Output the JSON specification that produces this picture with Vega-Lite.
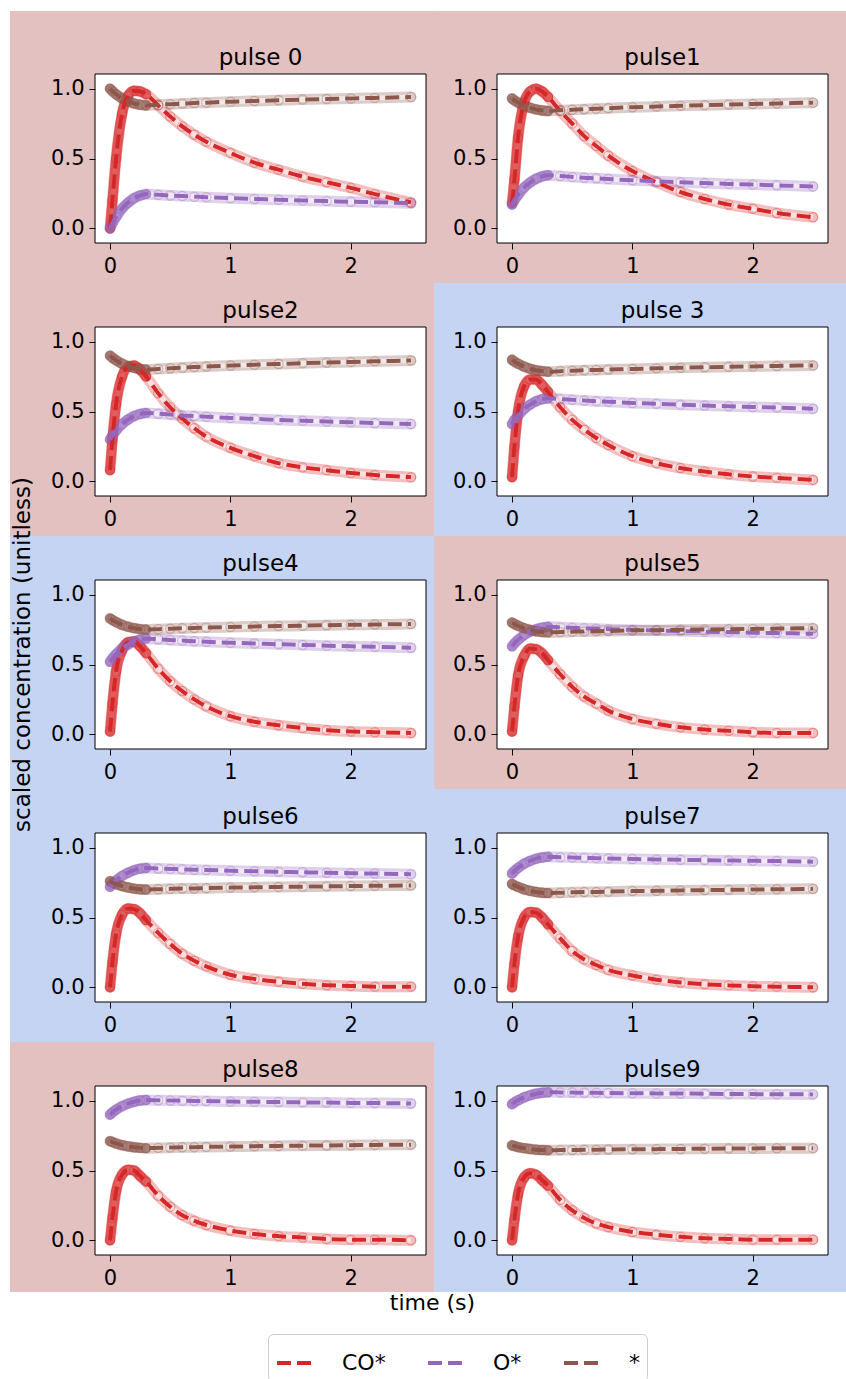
{
"$schema": "https://vega.github.io/schema/vega-lite/v6.json",
"background": "white",
"padding": {"left": 10, "top": 11, "right": 0, "bottom": 0},
"config": {
 "font": "DejaVu Sans",
 "view": {"stroke": null},
 "axis": {"domain": false, "grid": false, "tickColor": "black", "tickSize": 6, "tickWidth": 1, "labelFontSize": 21, "labelColor": "black", "zindex": 1, "titleFontSize": 23, "titleFontWeight": "normal", "titleColor": "black"},
 "axisX": {"labelPadding": 6},
 "axisY": {"labelPadding": 5},
 "line": {"interpolate": "monotone"}
},
"datasets": {"d": [
{"p":0,"s":"CO*","t":0,"y":0},{"p":0,"s":"CO*","t":0.02,"y":0.2},{"p":0,"s":"CO*","t":0.05,"y":0.5},{"p":0,"s":"CO*","t":0.1,"y":0.82},{"p":0,"s":"CO*","t":0.15,"y":0.95},{"p":0,"s":"CO*","t":0.2,"y":0.985},{"p":0,"s":"CO*","t":0.25,"y":0.98},{"p":0,"s":"CO*","t":0.3,"y":0.96},{"p":0,"s":"CO*","t":0.4,"y":0.88},{"p":0,"s":"CO*","t":0.5,"y":0.8},{"p":0,"s":"CO*","t":0.6,"y":0.73},{"p":0,"s":"CO*","t":0.7,"y":0.67},{"p":0,"s":"CO*","t":0.8,"y":0.62},{"p":0,"s":"CO*","t":1,"y":0.54},{"p":0,"s":"CO*","t":1.2,"y":0.47},{"p":0,"s":"CO*","t":1.4,"y":0.42},{"p":0,"s":"CO*","t":1.6,"y":0.37},{"p":0,"s":"CO*","t":1.8,"y":0.33},{"p":0,"s":"CO*","t":2,"y":0.29},{"p":0,"s":"CO*","t":2.2,"y":0.245},{"p":0,"s":"CO*","t":2.5,"y":0.185},
{"p":0,"s":"O*","t":0,"y":0},{"p":0,"s":"O*","t":0.02,"y":0.037},{"p":0,"s":"O*","t":0.05,"y":0.081},{"p":0,"s":"O*","t":0.1,"y":0.142},{"p":0,"s":"O*","t":0.15,"y":0.184},{"p":0,"s":"O*","t":0.2,"y":0.216},{"p":0,"s":"O*","t":0.25,"y":0.235},{"p":0,"s":"O*","t":0.3,"y":0.245},{"p":0,"s":"O*","t":0.4,"y":0.24},{"p":0,"s":"O*","t":0.5,"y":0.235},{"p":0,"s":"O*","t":0.6,"y":0.231},{"p":0,"s":"O*","t":0.7,"y":0.227},{"p":0,"s":"O*","t":0.8,"y":0.223},{"p":0,"s":"O*","t":1,"y":0.216},{"p":0,"s":"O*","t":1.2,"y":0.21},{"p":0,"s":"O*","t":1.4,"y":0.205},{"p":0,"s":"O*","t":1.6,"y":0.2},{"p":0,"s":"O*","t":1.8,"y":0.195},{"p":0,"s":"O*","t":2,"y":0.19},{"p":0,"s":"O*","t":2.2,"y":0.187},{"p":0,"s":"O*","t":2.5,"y":0.18},
{"p":0,"s":"*","t":0,"y":1},{"p":0,"s":"*","t":0.02,"y":0.982},{"p":0,"s":"*","t":0.05,"y":0.96},{"p":0,"s":"*","t":0.1,"y":0.93},{"p":0,"s":"*","t":0.15,"y":0.91},{"p":0,"s":"*","t":0.2,"y":0.894},{"p":0,"s":"*","t":0.25,"y":0.885},{"p":0,"s":"*","t":0.3,"y":0.88},{"p":0,"s":"*","t":0.4,"y":0.885},{"p":0,"s":"*","t":0.5,"y":0.889},{"p":0,"s":"*","t":0.6,"y":0.893},{"p":0,"s":"*","t":0.7,"y":0.897},{"p":0,"s":"*","t":0.8,"y":0.9},{"p":0,"s":"*","t":1,"y":0.907},{"p":0,"s":"*","t":1.2,"y":0.912},{"p":0,"s":"*","t":1.4,"y":0.917},{"p":0,"s":"*","t":1.6,"y":0.922},{"p":0,"s":"*","t":1.8,"y":0.926},{"p":0,"s":"*","t":2,"y":0.93},{"p":0,"s":"*","t":2.2,"y":0.934},{"p":0,"s":"*","t":2.5,"y":0.94},
{"p":1,"s":"CO*","t":0,"y":0.18},{"p":1,"s":"CO*","t":0.02,"y":0.35},{"p":1,"s":"CO*","t":0.05,"y":0.65},{"p":1,"s":"CO*","t":0.1,"y":0.9},{"p":1,"s":"CO*","t":0.15,"y":0.98},{"p":1,"s":"CO*","t":0.2,"y":1},{"p":1,"s":"CO*","t":0.25,"y":0.98},{"p":1,"s":"CO*","t":0.3,"y":0.94},{"p":1,"s":"CO*","t":0.4,"y":0.84},{"p":1,"s":"CO*","t":0.5,"y":0.75},{"p":1,"s":"CO*","t":0.6,"y":0.66},{"p":1,"s":"CO*","t":0.7,"y":0.59},{"p":1,"s":"CO*","t":0.8,"y":0.52},{"p":1,"s":"CO*","t":1,"y":0.41},{"p":1,"s":"CO*","t":1.2,"y":0.33},{"p":1,"s":"CO*","t":1.4,"y":0.26},{"p":1,"s":"CO*","t":1.6,"y":0.21},{"p":1,"s":"CO*","t":1.8,"y":0.17},{"p":1,"s":"CO*","t":2,"y":0.14},{"p":1,"s":"CO*","t":2.2,"y":0.11},{"p":1,"s":"CO*","t":2.5,"y":0.08},
{"p":1,"s":"O*","t":0,"y":0.17},{"p":1,"s":"O*","t":0.02,"y":0.202},{"p":1,"s":"O*","t":0.05,"y":0.239},{"p":1,"s":"O*","t":0.1,"y":0.292},{"p":1,"s":"O*","t":0.15,"y":0.328},{"p":1,"s":"O*","t":0.2,"y":0.355},{"p":1,"s":"O*","t":0.25,"y":0.372},{"p":1,"s":"O*","t":0.3,"y":0.38},{"p":1,"s":"O*","t":0.4,"y":0.374},{"p":1,"s":"O*","t":0.5,"y":0.368},{"p":1,"s":"O*","t":0.6,"y":0.362},{"p":1,"s":"O*","t":0.7,"y":0.358},{"p":1,"s":"O*","t":0.8,"y":0.353},{"p":1,"s":"O*","t":1,"y":0.344},{"p":1,"s":"O*","t":1.2,"y":0.337},{"p":1,"s":"O*","t":1.4,"y":0.33},{"p":1,"s":"O*","t":1.6,"y":0.324},{"p":1,"s":"O*","t":1.8,"y":0.318},{"p":1,"s":"O*","t":2,"y":0.313},{"p":1,"s":"O*","t":2.2,"y":0.308},{"p":1,"s":"O*","t":2.5,"y":0.3},
{"p":1,"s":"*","t":0,"y":0.93},{"p":1,"s":"*","t":0.02,"y":0.916},{"p":1,"s":"*","t":0.05,"y":0.9},{"p":1,"s":"*","t":0.1,"y":0.878},{"p":1,"s":"*","t":0.15,"y":0.863},{"p":1,"s":"*","t":0.2,"y":0.851},{"p":1,"s":"*","t":0.25,"y":0.844},{"p":1,"s":"*","t":0.3,"y":0.84},{"p":1,"s":"*","t":0.4,"y":0.845},{"p":1,"s":"*","t":0.5,"y":0.849},{"p":1,"s":"*","t":0.6,"y":0.853},{"p":1,"s":"*","t":0.7,"y":0.857},{"p":1,"s":"*","t":0.8,"y":0.86},{"p":1,"s":"*","t":1,"y":0.867},{"p":1,"s":"*","t":1.2,"y":0.872},{"p":1,"s":"*","t":1.4,"y":0.877},{"p":1,"s":"*","t":1.6,"y":0.882},{"p":1,"s":"*","t":1.8,"y":0.886},{"p":1,"s":"*","t":2,"y":0.89},{"p":1,"s":"*","t":2.2,"y":0.894},{"p":1,"s":"*","t":2.5,"y":0.9},
{"p":2,"s":"CO*","t":0,"y":0.08},{"p":2,"s":"CO*","t":0.02,"y":0.3},{"p":2,"s":"CO*","t":0.05,"y":0.55},{"p":2,"s":"CO*","t":0.1,"y":0.75},{"p":2,"s":"CO*","t":0.15,"y":0.82},{"p":2,"s":"CO*","t":0.2,"y":0.83},{"p":2,"s":"CO*","t":0.25,"y":0.8},{"p":2,"s":"CO*","t":0.3,"y":0.75},{"p":2,"s":"CO*","t":0.4,"y":0.63},{"p":2,"s":"CO*","t":0.5,"y":0.53},{"p":2,"s":"CO*","t":0.6,"y":0.45},{"p":2,"s":"CO*","t":0.7,"y":0.38},{"p":2,"s":"CO*","t":0.8,"y":0.32},{"p":2,"s":"CO*","t":1,"y":0.24},{"p":2,"s":"CO*","t":1.2,"y":0.18},{"p":2,"s":"CO*","t":1.4,"y":0.13},{"p":2,"s":"CO*","t":1.6,"y":0.1},{"p":2,"s":"CO*","t":1.8,"y":0.08},{"p":2,"s":"CO*","t":2,"y":0.06},{"p":2,"s":"CO*","t":2.2,"y":0.045},{"p":2,"s":"CO*","t":2.5,"y":0.03},
{"p":2,"s":"O*","t":0,"y":0.3},{"p":2,"s":"O*","t":0.02,"y":0.329},{"p":2,"s":"O*","t":0.05,"y":0.363},{"p":2,"s":"O*","t":0.1,"y":0.41},{"p":2,"s":"O*","t":0.15,"y":0.443},{"p":2,"s":"O*","t":0.2,"y":0.467},{"p":2,"s":"O*","t":0.25,"y":0.482},{"p":2,"s":"O*","t":0.3,"y":0.49},{"p":2,"s":"O*","t":0.4,"y":0.484},{"p":2,"s":"O*","t":0.5,"y":0.478},{"p":2,"s":"O*","t":0.6,"y":0.472},{"p":2,"s":"O*","t":0.7,"y":0.468},{"p":2,"s":"O*","t":0.8,"y":0.463},{"p":2,"s":"O*","t":1,"y":0.454},{"p":2,"s":"O*","t":1.2,"y":0.447},{"p":2,"s":"O*","t":1.4,"y":0.44},{"p":2,"s":"O*","t":1.6,"y":0.434},{"p":2,"s":"O*","t":1.8,"y":0.428},{"p":2,"s":"O*","t":2,"y":0.423},{"p":2,"s":"O*","t":2.2,"y":0.418},{"p":2,"s":"O*","t":2.5,"y":0.41},
{"p":2,"s":"*","t":0,"y":0.9},{"p":2,"s":"*","t":0.02,"y":0.885},{"p":2,"s":"*","t":0.05,"y":0.867},{"p":2,"s":"*","t":0.1,"y":0.842},{"p":2,"s":"*","t":0.15,"y":0.825},{"p":2,"s":"*","t":0.2,"y":0.812},{"p":2,"s":"*","t":0.25,"y":0.804},{"p":2,"s":"*","t":0.3,"y":0.8},{"p":2,"s":"*","t":0.4,"y":0.805},{"p":2,"s":"*","t":0.5,"y":0.81},{"p":2,"s":"*","t":0.6,"y":0.814},{"p":2,"s":"*","t":0.7,"y":0.818},{"p":2,"s":"*","t":0.8,"y":0.822},{"p":2,"s":"*","t":1,"y":0.829},{"p":2,"s":"*","t":1.2,"y":0.835},{"p":2,"s":"*","t":1.4,"y":0.84},{"p":2,"s":"*","t":1.6,"y":0.846},{"p":2,"s":"*","t":1.8,"y":0.85},{"p":2,"s":"*","t":2,"y":0.855},{"p":2,"s":"*","t":2.2,"y":0.859},{"p":2,"s":"*","t":2.5,"y":0.865},
{"p":3,"s":"CO*","t":0,"y":0.03},{"p":3,"s":"CO*","t":0.02,"y":0.25},{"p":3,"s":"CO*","t":0.05,"y":0.5},{"p":3,"s":"CO*","t":0.1,"y":0.68},{"p":3,"s":"CO*","t":0.15,"y":0.73},{"p":3,"s":"CO*","t":0.2,"y":0.73},{"p":3,"s":"CO*","t":0.25,"y":0.69},{"p":3,"s":"CO*","t":0.3,"y":0.64},{"p":3,"s":"CO*","t":0.4,"y":0.53},{"p":3,"s":"CO*","t":0.5,"y":0.44},{"p":3,"s":"CO*","t":0.6,"y":0.37},{"p":3,"s":"CO*","t":0.7,"y":0.31},{"p":3,"s":"CO*","t":0.8,"y":0.26},{"p":3,"s":"CO*","t":1,"y":0.18},{"p":3,"s":"CO*","t":1.2,"y":0.13},{"p":3,"s":"CO*","t":1.4,"y":0.095},{"p":3,"s":"CO*","t":1.6,"y":0.07},{"p":3,"s":"CO*","t":1.8,"y":0.05},{"p":3,"s":"CO*","t":2,"y":0.035},{"p":3,"s":"CO*","t":2.2,"y":0.025},{"p":3,"s":"CO*","t":2.5,"y":0.01},
{"p":3,"s":"O*","t":0,"y":0.41},{"p":3,"s":"O*","t":0.02,"y":0.438},{"p":3,"s":"O*","t":0.05,"y":0.471},{"p":3,"s":"O*","t":0.1,"y":0.517},{"p":3,"s":"O*","t":0.15,"y":0.549},{"p":3,"s":"O*","t":0.2,"y":0.573},{"p":3,"s":"O*","t":0.25,"y":0.588},{"p":3,"s":"O*","t":0.3,"y":0.595},{"p":3,"s":"O*","t":0.4,"y":0.589},{"p":3,"s":"O*","t":0.5,"y":0.584},{"p":3,"s":"O*","t":0.6,"y":0.579},{"p":3,"s":"O*","t":0.7,"y":0.574},{"p":3,"s":"O*","t":0.8,"y":0.57},{"p":3,"s":"O*","t":1,"y":0.561},{"p":3,"s":"O*","t":1.2,"y":0.555},{"p":3,"s":"O*","t":1.4,"y":0.549},{"p":3,"s":"O*","t":1.6,"y":0.543},{"p":3,"s":"O*","t":1.8,"y":0.537},{"p":3,"s":"O*","t":2,"y":0.532},{"p":3,"s":"O*","t":2.2,"y":0.528},{"p":3,"s":"O*","t":2.5,"y":0.52},
{"p":3,"s":"*","t":0,"y":0.87},{"p":3,"s":"*","t":0.02,"y":0.857},{"p":3,"s":"*","t":0.05,"y":0.842},{"p":3,"s":"*","t":0.1,"y":0.821},{"p":3,"s":"*","t":0.15,"y":0.806},{"p":3,"s":"*","t":0.2,"y":0.795},{"p":3,"s":"*","t":0.25,"y":0.789},{"p":3,"s":"*","t":0.3,"y":0.785},{"p":3,"s":"*","t":0.4,"y":0.789},{"p":3,"s":"*","t":0.5,"y":0.792},{"p":3,"s":"*","t":0.6,"y":0.795},{"p":3,"s":"*","t":0.7,"y":0.798},{"p":3,"s":"*","t":0.8,"y":0.8},{"p":3,"s":"*","t":1,"y":0.805},{"p":3,"s":"*","t":1.2,"y":0.809},{"p":3,"s":"*","t":1.4,"y":0.813},{"p":3,"s":"*","t":1.6,"y":0.817},{"p":3,"s":"*","t":1.8,"y":0.82},{"p":3,"s":"*","t":2,"y":0.823},{"p":3,"s":"*","t":2.2,"y":0.826},{"p":3,"s":"*","t":2.5,"y":0.83},
{"p":4,"s":"CO*","t":0,"y":0.02},{"p":4,"s":"CO*","t":0.02,"y":0.22},{"p":4,"s":"CO*","t":0.05,"y":0.45},{"p":4,"s":"CO*","t":0.1,"y":0.6},{"p":4,"s":"CO*","t":0.15,"y":0.66},{"p":4,"s":"CO*","t":0.2,"y":0.665},{"p":4,"s":"CO*","t":0.25,"y":0.63},{"p":4,"s":"CO*","t":0.3,"y":0.58},{"p":4,"s":"CO*","t":0.4,"y":0.47},{"p":4,"s":"CO*","t":0.5,"y":0.38},{"p":4,"s":"CO*","t":0.6,"y":0.31},{"p":4,"s":"CO*","t":0.7,"y":0.25},{"p":4,"s":"CO*","t":0.8,"y":0.2},{"p":4,"s":"CO*","t":1,"y":0.13},{"p":4,"s":"CO*","t":1.2,"y":0.09},{"p":4,"s":"CO*","t":1.4,"y":0.065},{"p":4,"s":"CO*","t":1.6,"y":0.045},{"p":4,"s":"CO*","t":1.8,"y":0.03},{"p":4,"s":"CO*","t":2,"y":0.02},{"p":4,"s":"CO*","t":2.2,"y":0.015},{"p":4,"s":"CO*","t":2.5,"y":0.01},
{"p":4,"s":"O*","t":0,"y":0.52},{"p":4,"s":"O*","t":0.02,"y":0.545},{"p":4,"s":"O*","t":0.05,"y":0.574},{"p":4,"s":"O*","t":0.1,"y":0.616},{"p":4,"s":"O*","t":0.15,"y":0.644},{"p":4,"s":"O*","t":0.2,"y":0.665},{"p":4,"s":"O*","t":0.25,"y":0.678},{"p":4,"s":"O*","t":0.3,"y":0.685},{"p":4,"s":"O*","t":0.4,"y":0.68},{"p":4,"s":"O*","t":0.5,"y":0.675},{"p":4,"s":"O*","t":0.6,"y":0.671},{"p":4,"s":"O*","t":0.7,"y":0.667},{"p":4,"s":"O*","t":0.8,"y":0.663},{"p":4,"s":"O*","t":1,"y":0.656},{"p":4,"s":"O*","t":1.2,"y":0.65},{"p":4,"s":"O*","t":1.4,"y":0.645},{"p":4,"s":"O*","t":1.6,"y":0.64},{"p":4,"s":"O*","t":1.8,"y":0.635},{"p":4,"s":"O*","t":2,"y":0.63},{"p":4,"s":"O*","t":2.2,"y":0.627},{"p":4,"s":"O*","t":2.5,"y":0.62},
{"p":4,"s":"*","t":0,"y":0.83},{"p":4,"s":"*","t":0.02,"y":0.818},{"p":4,"s":"*","t":0.05,"y":0.804},{"p":4,"s":"*","t":0.1,"y":0.784},{"p":4,"s":"*","t":0.15,"y":0.77},{"p":4,"s":"*","t":0.2,"y":0.76},{"p":4,"s":"*","t":0.25,"y":0.753},{"p":4,"s":"*","t":0.3,"y":0.75},{"p":4,"s":"*","t":0.4,"y":0.753},{"p":4,"s":"*","t":0.5,"y":0.756},{"p":4,"s":"*","t":0.6,"y":0.759},{"p":4,"s":"*","t":0.7,"y":0.761},{"p":4,"s":"*","t":0.8,"y":0.764},{"p":4,"s":"*","t":1,"y":0.768},{"p":4,"s":"*","t":1.2,"y":0.772},{"p":4,"s":"*","t":1.4,"y":0.775},{"p":4,"s":"*","t":1.6,"y":0.778},{"p":4,"s":"*","t":1.8,"y":0.781},{"p":4,"s":"*","t":2,"y":0.784},{"p":4,"s":"*","t":2.2,"y":0.786},{"p":4,"s":"*","t":2.5,"y":0.79},
{"p":5,"s":"CO*","t":0,"y":0.02},{"p":5,"s":"CO*","t":0.02,"y":0.2},{"p":5,"s":"CO*","t":0.05,"y":0.42},{"p":5,"s":"CO*","t":0.1,"y":0.56},{"p":5,"s":"CO*","t":0.15,"y":0.615},{"p":5,"s":"CO*","t":0.2,"y":0.61},{"p":5,"s":"CO*","t":0.25,"y":0.58},{"p":5,"s":"CO*","t":0.3,"y":0.53},{"p":5,"s":"CO*","t":0.4,"y":0.43},{"p":5,"s":"CO*","t":0.5,"y":0.34},{"p":5,"s":"CO*","t":0.6,"y":0.27},{"p":5,"s":"CO*","t":0.7,"y":0.22},{"p":5,"s":"CO*","t":0.8,"y":0.17},{"p":5,"s":"CO*","t":1,"y":0.11},{"p":5,"s":"CO*","t":1.2,"y":0.075},{"p":5,"s":"CO*","t":1.4,"y":0.05},{"p":5,"s":"CO*","t":1.6,"y":0.035},{"p":5,"s":"CO*","t":1.8,"y":0.025},{"p":5,"s":"CO*","t":2,"y":0.015},{"p":5,"s":"CO*","t":2.2,"y":0.01},{"p":5,"s":"CO*","t":2.5,"y":0.01},
{"p":5,"s":"O*","t":0,"y":0.63},{"p":5,"s":"O*","t":0.02,"y":0.651},{"p":5,"s":"O*","t":0.05,"y":0.676},{"p":5,"s":"O*","t":0.1,"y":0.711},{"p":5,"s":"O*","t":0.15,"y":0.735},{"p":5,"s":"O*","t":0.2,"y":0.753},{"p":5,"s":"O*","t":0.25,"y":0.764},{"p":5,"s":"O*","t":0.3,"y":0.77},{"p":5,"s":"O*","t":0.4,"y":0.766},{"p":5,"s":"O*","t":0.5,"y":0.763},{"p":5,"s":"O*","t":0.6,"y":0.759},{"p":5,"s":"O*","t":0.7,"y":0.756},{"p":5,"s":"O*","t":0.8,"y":0.753},{"p":5,"s":"O*","t":1,"y":0.748},{"p":5,"s":"O*","t":1.2,"y":0.743},{"p":5,"s":"O*","t":1.4,"y":0.739},{"p":5,"s":"O*","t":1.6,"y":0.735},{"p":5,"s":"O*","t":1.8,"y":0.732},{"p":5,"s":"O*","t":2,"y":0.728},{"p":5,"s":"O*","t":2.2,"y":0.725},{"p":5,"s":"O*","t":2.5,"y":0.72},
{"p":5,"s":"*","t":0,"y":0.8},{"p":5,"s":"*","t":0.02,"y":0.79},{"p":5,"s":"*","t":0.05,"y":0.777},{"p":5,"s":"*","t":0.1,"y":0.759},{"p":5,"s":"*","t":0.15,"y":0.748},{"p":5,"s":"*","t":0.2,"y":0.738},{"p":5,"s":"*","t":0.25,"y":0.733},{"p":5,"s":"*","t":0.3,"y":0.73},{"p":5,"s":"*","t":0.4,"y":0.732},{"p":5,"s":"*","t":0.5,"y":0.735},{"p":5,"s":"*","t":0.6,"y":0.737},{"p":5,"s":"*","t":0.7,"y":0.738},{"p":5,"s":"*","t":0.8,"y":0.74},{"p":5,"s":"*","t":1,"y":0.744},{"p":5,"s":"*","t":1.2,"y":0.746},{"p":5,"s":"*","t":1.4,"y":0.749},{"p":5,"s":"*","t":1.6,"y":0.751},{"p":5,"s":"*","t":1.8,"y":0.753},{"p":5,"s":"*","t":2,"y":0.755},{"p":5,"s":"*","t":2.2,"y":0.757},{"p":5,"s":"*","t":2.5,"y":0.76},
{"p":6,"s":"CO*","t":0,"y":0},{"p":6,"s":"CO*","t":0.02,"y":0.18},{"p":6,"s":"CO*","t":0.05,"y":0.38},{"p":6,"s":"CO*","t":0.1,"y":0.52},{"p":6,"s":"CO*","t":0.15,"y":0.565},{"p":6,"s":"CO*","t":0.2,"y":0.56},{"p":6,"s":"CO*","t":0.25,"y":0.53},{"p":6,"s":"CO*","t":0.3,"y":0.48},{"p":6,"s":"CO*","t":0.4,"y":0.39},{"p":6,"s":"CO*","t":0.5,"y":0.31},{"p":6,"s":"CO*","t":0.6,"y":0.24},{"p":6,"s":"CO*","t":0.7,"y":0.19},{"p":6,"s":"CO*","t":0.8,"y":0.15},{"p":6,"s":"CO*","t":1,"y":0.09},{"p":6,"s":"CO*","t":1.2,"y":0.06},{"p":6,"s":"CO*","t":1.4,"y":0.04},{"p":6,"s":"CO*","t":1.6,"y":0.025},{"p":6,"s":"CO*","t":1.8,"y":0.015},{"p":6,"s":"CO*","t":2,"y":0.01},{"p":6,"s":"CO*","t":2.2,"y":0.005},{"p":6,"s":"CO*","t":2.5,"y":0.005},
{"p":6,"s":"O*","t":0,"y":0.72},{"p":6,"s":"O*","t":0.02,"y":0.74},{"p":6,"s":"O*","t":0.05,"y":0.765},{"p":6,"s":"O*","t":0.1,"y":0.798},{"p":6,"s":"O*","t":0.15,"y":0.821},{"p":6,"s":"O*","t":0.2,"y":0.839},{"p":6,"s":"O*","t":0.25,"y":0.85},{"p":6,"s":"O*","t":0.3,"y":0.855},{"p":6,"s":"O*","t":0.4,"y":0.851},{"p":6,"s":"O*","t":0.5,"y":0.848},{"p":6,"s":"O*","t":0.6,"y":0.845},{"p":6,"s":"O*","t":0.7,"y":0.842},{"p":6,"s":"O*","t":0.8,"y":0.84},{"p":6,"s":"O*","t":1,"y":0.835},{"p":6,"s":"O*","t":1.2,"y":0.831},{"p":6,"s":"O*","t":1.4,"y":0.827},{"p":6,"s":"O*","t":1.6,"y":0.824},{"p":6,"s":"O*","t":1.8,"y":0.82},{"p":6,"s":"O*","t":2,"y":0.817},{"p":6,"s":"O*","t":2.2,"y":0.815},{"p":6,"s":"O*","t":2.5,"y":0.81},
{"p":6,"s":"*","t":0,"y":0.76},{"p":6,"s":"*","t":0.02,"y":0.751},{"p":6,"s":"*","t":0.05,"y":0.74},{"p":6,"s":"*","t":0.1,"y":0.725},{"p":6,"s":"*","t":0.15,"y":0.715},{"p":6,"s":"*","t":0.2,"y":0.707},{"p":6,"s":"*","t":0.25,"y":0.702},{"p":6,"s":"*","t":0.3,"y":0.7},{"p":6,"s":"*","t":0.4,"y":0.702},{"p":6,"s":"*","t":0.5,"y":0.705},{"p":6,"s":"*","t":0.6,"y":0.707},{"p":6,"s":"*","t":0.7,"y":0.708},{"p":6,"s":"*","t":0.8,"y":0.71},{"p":6,"s":"*","t":1,"y":0.714},{"p":6,"s":"*","t":1.2,"y":0.716},{"p":6,"s":"*","t":1.4,"y":0.719},{"p":6,"s":"*","t":1.6,"y":0.721},{"p":6,"s":"*","t":1.8,"y":0.723},{"p":6,"s":"*","t":2,"y":0.725},{"p":6,"s":"*","t":2.2,"y":0.727},{"p":6,"s":"*","t":2.5,"y":0.73},
{"p":7,"s":"CO*","t":0,"y":0},{"p":7,"s":"CO*","t":0.02,"y":0.17},{"p":7,"s":"CO*","t":0.05,"y":0.36},{"p":7,"s":"CO*","t":0.1,"y":0.5},{"p":7,"s":"CO*","t":0.15,"y":0.54},{"p":7,"s":"CO*","t":0.2,"y":0.535},{"p":7,"s":"CO*","t":0.25,"y":0.5},{"p":7,"s":"CO*","t":0.3,"y":0.45},{"p":7,"s":"CO*","t":0.4,"y":0.35},{"p":7,"s":"CO*","t":0.5,"y":0.26},{"p":7,"s":"CO*","t":0.6,"y":0.2},{"p":7,"s":"CO*","t":0.7,"y":0.16},{"p":7,"s":"CO*","t":0.8,"y":0.125},{"p":7,"s":"CO*","t":1,"y":0.085},{"p":7,"s":"CO*","t":1.2,"y":0.055},{"p":7,"s":"CO*","t":1.4,"y":0.035},{"p":7,"s":"CO*","t":1.6,"y":0.022},{"p":7,"s":"CO*","t":1.8,"y":0.014},{"p":7,"s":"CO*","t":2,"y":0.008},{"p":7,"s":"CO*","t":2.2,"y":0.005},{"p":7,"s":"CO*","t":2.5,"y":0},
{"p":7,"s":"O*","t":0,"y":0.815},{"p":7,"s":"O*","t":0.02,"y":0.833},{"p":7,"s":"O*","t":0.05,"y":0.855},{"p":7,"s":"O*","t":0.1,"y":0.885},{"p":7,"s":"O*","t":0.15,"y":0.905},{"p":7,"s":"O*","t":0.2,"y":0.921},{"p":7,"s":"O*","t":0.25,"y":0.93},{"p":7,"s":"O*","t":0.3,"y":0.935},{"p":7,"s":"O*","t":0.4,"y":0.932},{"p":7,"s":"O*","t":0.5,"y":0.93},{"p":7,"s":"O*","t":0.6,"y":0.927},{"p":7,"s":"O*","t":0.7,"y":0.925},{"p":7,"s":"O*","t":0.8,"y":0.923},{"p":7,"s":"O*","t":1,"y":0.919},{"p":7,"s":"O*","t":1.2,"y":0.916},{"p":7,"s":"O*","t":1.4,"y":0.913},{"p":7,"s":"O*","t":1.6,"y":0.911},{"p":7,"s":"O*","t":1.8,"y":0.908},{"p":7,"s":"O*","t":2,"y":0.906},{"p":7,"s":"O*","t":2.2,"y":0.904},{"p":7,"s":"O*","t":2.5,"y":0.9},
{"p":7,"s":"*","t":0,"y":0.74},{"p":7,"s":"*","t":0.02,"y":0.73},{"p":7,"s":"*","t":0.05,"y":0.719},{"p":7,"s":"*","t":0.1,"y":0.702},{"p":7,"s":"*","t":0.15,"y":0.691},{"p":7,"s":"*","t":0.2,"y":0.683},{"p":7,"s":"*","t":0.25,"y":0.677},{"p":7,"s":"*","t":0.3,"y":0.675},{"p":7,"s":"*","t":0.4,"y":0.677},{"p":7,"s":"*","t":0.5,"y":0.68},{"p":7,"s":"*","t":0.6,"y":0.682},{"p":7,"s":"*","t":0.7,"y":0.683},{"p":7,"s":"*","t":0.8,"y":0.685},{"p":7,"s":"*","t":1,"y":0.689},{"p":7,"s":"*","t":1.2,"y":0.691},{"p":7,"s":"*","t":1.4,"y":0.694},{"p":7,"s":"*","t":1.6,"y":0.696},{"p":7,"s":"*","t":1.8,"y":0.698},{"p":7,"s":"*","t":2,"y":0.7},{"p":7,"s":"*","t":2.2,"y":0.702},{"p":7,"s":"*","t":2.5,"y":0.705},
{"p":8,"s":"CO*","t":0,"y":0},{"p":8,"s":"CO*","t":0.02,"y":0.16},{"p":8,"s":"CO*","t":0.05,"y":0.35},{"p":8,"s":"CO*","t":0.1,"y":0.47},{"p":8,"s":"CO*","t":0.15,"y":0.505},{"p":8,"s":"CO*","t":0.2,"y":0.5},{"p":8,"s":"CO*","t":0.25,"y":0.46},{"p":8,"s":"CO*","t":0.3,"y":0.42},{"p":8,"s":"CO*","t":0.4,"y":0.32},{"p":8,"s":"CO*","t":0.5,"y":0.24},{"p":8,"s":"CO*","t":0.6,"y":0.18},{"p":8,"s":"CO*","t":0.7,"y":0.14},{"p":8,"s":"CO*","t":0.8,"y":0.11},{"p":8,"s":"CO*","t":1,"y":0.07},{"p":8,"s":"CO*","t":1.2,"y":0.045},{"p":8,"s":"CO*","t":1.4,"y":0.03},{"p":8,"s":"CO*","t":1.6,"y":0.02},{"p":8,"s":"CO*","t":1.8,"y":0.01},{"p":8,"s":"CO*","t":2,"y":0.005},{"p":8,"s":"CO*","t":2.2,"y":0.005},{"p":8,"s":"CO*","t":2.5,"y":0},
{"p":8,"s":"O*","t":0,"y":0.9},{"p":8,"s":"O*","t":0.02,"y":0.916},{"p":8,"s":"O*","t":0.05,"y":0.935},{"p":8,"s":"O*","t":0.1,"y":0.961},{"p":8,"s":"O*","t":0.15,"y":0.979},{"p":8,"s":"O*","t":0.2,"y":0.992},{"p":8,"s":"O*","t":0.25,"y":1.001},{"p":8,"s":"O*","t":0.3,"y":1.005},{"p":8,"s":"O*","t":0.4,"y":1.003},{"p":8,"s":"O*","t":0.5,"y":1.001},{"p":8,"s":"O*","t":0.6,"y":1},{"p":8,"s":"O*","t":0.7,"y":0.998},{"p":8,"s":"O*","t":0.8,"y":0.997},{"p":8,"s":"O*","t":1,"y":0.994},{"p":8,"s":"O*","t":1.2,"y":0.992},{"p":8,"s":"O*","t":1.4,"y":0.99},{"p":8,"s":"O*","t":1.6,"y":0.988},{"p":8,"s":"O*","t":1.8,"y":0.986},{"p":8,"s":"O*","t":2,"y":0.984},{"p":8,"s":"O*","t":2.2,"y":0.983},{"p":8,"s":"O*","t":2.5,"y":0.98},
{"p":8,"s":"*","t":0,"y":0.71},{"p":8,"s":"*","t":0.02,"y":0.703},{"p":8,"s":"*","t":0.05,"y":0.694},{"p":8,"s":"*","t":0.1,"y":0.681},{"p":8,"s":"*","t":0.15,"y":0.673},{"p":8,"s":"*","t":0.2,"y":0.666},{"p":8,"s":"*","t":0.25,"y":0.662},{"p":8,"s":"*","t":0.3,"y":0.66},{"p":8,"s":"*","t":0.4,"y":0.662},{"p":8,"s":"*","t":0.5,"y":0.664},{"p":8,"s":"*","t":0.6,"y":0.666},{"p":8,"s":"*","t":0.7,"y":0.667},{"p":8,"s":"*","t":0.8,"y":0.669},{"p":8,"s":"*","t":1,"y":0.671},{"p":8,"s":"*","t":1.2,"y":0.674},{"p":8,"s":"*","t":1.4,"y":0.676},{"p":8,"s":"*","t":1.6,"y":0.678},{"p":8,"s":"*","t":1.8,"y":0.679},{"p":8,"s":"*","t":2,"y":0.681},{"p":8,"s":"*","t":2.2,"y":0.683},{"p":8,"s":"*","t":2.5,"y":0.685},
{"p":9,"s":"CO*","t":0,"y":0},{"p":9,"s":"CO*","t":0.02,"y":0.15},{"p":9,"s":"CO*","t":0.05,"y":0.33},{"p":9,"s":"CO*","t":0.1,"y":0.45},{"p":9,"s":"CO*","t":0.15,"y":0.48},{"p":9,"s":"CO*","t":0.2,"y":0.47},{"p":9,"s":"CO*","t":0.25,"y":0.43},{"p":9,"s":"CO*","t":0.3,"y":0.39},{"p":9,"s":"CO*","t":0.4,"y":0.29},{"p":9,"s":"CO*","t":0.5,"y":0.215},{"p":9,"s":"CO*","t":0.6,"y":0.16},{"p":9,"s":"CO*","t":0.7,"y":0.12},{"p":9,"s":"CO*","t":0.8,"y":0.095},{"p":9,"s":"CO*","t":1,"y":0.06},{"p":9,"s":"CO*","t":1.2,"y":0.04},{"p":9,"s":"CO*","t":1.4,"y":0.025},{"p":9,"s":"CO*","t":1.6,"y":0.015},{"p":9,"s":"CO*","t":1.8,"y":0.01},{"p":9,"s":"CO*","t":2,"y":0.005},{"p":9,"s":"CO*","t":2.2,"y":0.005},{"p":9,"s":"CO*","t":2.5,"y":0.005},
{"p":9,"s":"O*","t":0,"y":0.975},{"p":9,"s":"O*","t":0.02,"y":0.988},{"p":9,"s":"O*","t":0.05,"y":1.003},{"p":9,"s":"O*","t":0.1,"y":1.024},{"p":9,"s":"O*","t":0.15,"y":1.039},{"p":9,"s":"O*","t":0.2,"y":1.05},{"p":9,"s":"O*","t":0.25,"y":1.057},{"p":9,"s":"O*","t":0.3,"y":1.06},{"p":9,"s":"O*","t":0.4,"y":1.059},{"p":9,"s":"O*","t":0.5,"y":1.058},{"p":9,"s":"O*","t":0.6,"y":1.057},{"p":9,"s":"O*","t":0.7,"y":1.056},{"p":9,"s":"O*","t":0.8,"y":1.055},{"p":9,"s":"O*","t":1,"y":1.053},{"p":9,"s":"O*","t":1.2,"y":1.052},{"p":9,"s":"O*","t":1.4,"y":1.051},{"p":9,"s":"O*","t":1.6,"y":1.05},{"p":9,"s":"O*","t":1.8,"y":1.048},{"p":9,"s":"O*","t":2,"y":1.047},{"p":9,"s":"O*","t":2.2,"y":1.046},{"p":9,"s":"O*","t":2.5,"y":1.045},
{"p":9,"s":"*","t":0,"y":0.68},{"p":9,"s":"*","t":0.02,"y":0.675},{"p":9,"s":"*","t":0.05,"y":0.668},{"p":9,"s":"*","t":0.1,"y":0.66},{"p":9,"s":"*","t":0.15,"y":0.654},{"p":9,"s":"*","t":0.2,"y":0.649},{"p":9,"s":"*","t":0.25,"y":0.647},{"p":9,"s":"*","t":0.3,"y":0.645},{"p":9,"s":"*","t":0.4,"y":0.646},{"p":9,"s":"*","t":0.5,"y":0.647},{"p":9,"s":"*","t":0.6,"y":0.648},{"p":9,"s":"*","t":0.7,"y":0.649},{"p":9,"s":"*","t":0.8,"y":0.65},{"p":9,"s":"*","t":1,"y":0.652},{"p":9,"s":"*","t":1.2,"y":0.653},{"p":9,"s":"*","t":1.4,"y":0.654},{"p":9,"s":"*","t":1.6,"y":0.656},{"p":9,"s":"*","t":1.8,"y":0.657},{"p":9,"s":"*","t":2,"y":0.658},{"p":9,"s":"*","t":2.2,"y":0.659},{"p":9,"s":"*","t":2.5,"y":0.66}
]},
"data": {"name": "d"},
"columns": 2,
"spacing": {"row": 84, "column": 71},
"bounds": "flush",
"concat": [
{"width": 331, "height": 169, "layer": [
 {"data": {"values": [{}]}, "mark": {"type": "rect", "fill": "#e3c1c1"}, "encoding": {"x": {"datum": -0.831, "scale": {"domain": [-0.125, 2.625], "nice": false, "zero": false}, "axis": {"values": [0, 1, 2], "format": "d", "title": null, "orient": "bottom", "zindex": 1}}, "x2": {"datum": 2.6915}, "y": {"datum": 1.556, "scale": {"domain": [-0.105, 1.105], "nice": false, "zero": false}, "axis": {"values": [0, 0.5, 1], "format": ".1f", "title": null, "orient": "left", "zindex": 1}}, "y2": {"datum": -0.391}}},
 {"data": {"values": [{}]}, "mark": {"type": "rect", "fill": "white", "stroke": "black", "strokeWidth": 1}, "encoding": {"x": {"datum": -0.125, "scale": {"domain": [-0.125, 2.625], "nice": false, "zero": false}, "axis": {"values": [0, 1, 2], "format": "d", "title": null, "orient": "bottom", "zindex": 1}}, "x2": {"datum": 2.625}, "y": {"datum": 1.105, "scale": {"domain": [-0.105, 1.105], "nice": false, "zero": false}, "axis": {"values": [0, 0.5, 1], "format": ".1f", "title": null, "orient": "left", "zindex": 1}}, "y2": {"datum": -0.105}}},
 {"data": {"values": [{"name": "pulse 0"}]}, "mark": {"type": "text", "fontSize": 23, "align": "center", "baseline": "alphabetic", "color": "black"}, "encoding": {"x": {"datum": 1.25, "scale": {"domain": [-0.125, 2.625], "nice": false, "zero": false}, "axis": {"values": [0, 1, 2], "format": "d", "title": null, "orient": "bottom", "zindex": 1}}, "y": {"datum": 1.169, "scale": {"domain": [-0.105, 1.105], "nice": false, "zero": false}, "axis": {"values": [0, 0.5, 1], "format": ".1f", "title": null, "orient": "left", "zindex": 1}}, "text": {"field": "name"}}},
 {"transform": [{"filter": "datum.p == 0"}],
  "encoding": {"x": {"field": "t", "type": "quantitative", "scale": {"domain": [-0.125, 2.625], "nice": false, "zero": false}, "axis": {"values": [0, 1, 2], "format": "d", "title": null, "orient": "bottom", "zindex": 1}}, "y": {"field": "y", "type": "quantitative", "scale": {"domain": [-0.105, 1.105], "nice": false, "zero": false}, "axis": {"values": [0, 0.5, 1], "format": ".1f", "title": null, "orient": "left", "zindex": 1}}},
  "layer": [
   {"mark": {"type": "line", "strokeWidth": 11, "opacity": 0.3, "strokeCap": "round"}, "encoding": {"color": {"field": "s", "type": "nominal", "scale": {"domain": ["*", "CO*", "O*"], "range": ["#8c564b", "#d62728", "#9467bd"]}, "legend": null}}},
   {"mark": {"type": "line", "strokeWidth": 5, "color": "white", "opacity": 0.55}, "encoding": {"detail": {"field": "s", "type": "nominal"}}},
   {"mark": {"type": "point", "filled": false, "size": 85, "strokeWidth": 1.2, "opacity": 0.35}, "encoding": {"color": {"field": "s", "type": "nominal", "scale": {"domain": ["*", "CO*", "O*"], "range": ["#8c564b", "#d62728", "#9467bd"]}, "legend": null}}},
   {"transform": [{"filter": "datum.t <= 0.3"}], "mark": {"type": "line", "strokeWidth": 10, "opacity": 0.7, "strokeCap": "round"}, "encoding": {"color": {"field": "s", "type": "nominal", "scale": {"domain": ["*", "CO*", "O*"], "range": ["#8c564b", "#d62728", "#9467bd"]}, "legend": null}}},
   {"mark": {"type": "line", "strokeWidth": 4, "strokeDash": [14, 6]}, "encoding": {"stroke": {"field": "s", "type": "nominal", "scale": {"domain": ["CO*", "O*", "*"], "range": ["#d62728", "#9467bd", "#8c564b"]}, "legend": {"title": null, "orient": "none", "legendX": 173, "legendY": 1260, "direction": "horizontal", "gridAlign": "none", "symbolType": "stroke", "symbolSize": 1600, "symbolStrokeWidth": 4, "symbolDash": [14, 6], "symbolOpacity": 1, "labelFontSize": 22, "labelOffset": 23, "columnPadding": 34, "padding": 7, "strokeColor": "#cccccc", "cornerRadius": 5, "fillColor": "white", "labelColor": "black"}}}}
  ]}
]},
{"width": 331, "height": 169, "layer": [
 {"data": {"values": [{}]}, "mark": {"type": "rect", "fill": "#e3c1c1"}, "encoding": {"x": {"datum": -0.648, "scale": {"domain": [-0.125, 2.625], "nice": false, "zero": false}, "axis": {"values": [0, 1, 2], "format": "d", "title": null, "orient": "bottom", "zindex": 1}}, "x2": {"datum": 2.7746}, "y": {"datum": 1.556, "scale": {"domain": [-0.105, 1.105], "nice": false, "zero": false}, "axis": {"values": [0, 0.5, 1], "format": ".1f", "title": null, "orient": "left", "zindex": 1}}, "y2": {"datum": -0.391}}},
 {"data": {"values": [{}]}, "mark": {"type": "rect", "fill": "white", "stroke": "black", "strokeWidth": 1}, "encoding": {"x": {"datum": -0.125, "scale": {"domain": [-0.125, 2.625], "nice": false, "zero": false}, "axis": {"values": [0, 1, 2], "format": "d", "title": null, "orient": "bottom", "zindex": 1}}, "x2": {"datum": 2.625}, "y": {"datum": 1.105, "scale": {"domain": [-0.105, 1.105], "nice": false, "zero": false}, "axis": {"values": [0, 0.5, 1], "format": ".1f", "title": null, "orient": "left", "zindex": 1}}, "y2": {"datum": -0.105}}},
 {"data": {"values": [{"name": "pulse1"}]}, "mark": {"type": "text", "fontSize": 23, "align": "center", "baseline": "alphabetic", "color": "black"}, "encoding": {"x": {"datum": 1.25, "scale": {"domain": [-0.125, 2.625], "nice": false, "zero": false}, "axis": {"values": [0, 1, 2], "format": "d", "title": null, "orient": "bottom", "zindex": 1}}, "y": {"datum": 1.169, "scale": {"domain": [-0.105, 1.105], "nice": false, "zero": false}, "axis": {"values": [0, 0.5, 1], "format": ".1f", "title": null, "orient": "left", "zindex": 1}}, "text": {"field": "name"}}},
 {"transform": [{"filter": "datum.p == 1"}],
  "encoding": {"x": {"field": "t", "type": "quantitative", "scale": {"domain": [-0.125, 2.625], "nice": false, "zero": false}, "axis": {"values": [0, 1, 2], "format": "d", "title": null, "orient": "bottom", "zindex": 1}}, "y": {"field": "y", "type": "quantitative", "scale": {"domain": [-0.105, 1.105], "nice": false, "zero": false}, "axis": {"values": [0, 0.5, 1], "format": ".1f", "title": null, "orient": "left", "zindex": 1}}},
  "layer": [
   {"mark": {"type": "line", "strokeWidth": 11, "opacity": 0.3, "strokeCap": "round"}, "encoding": {"color": {"field": "s", "type": "nominal", "scale": {"domain": ["*", "CO*", "O*"], "range": ["#8c564b", "#d62728", "#9467bd"]}, "legend": null}}},
   {"mark": {"type": "line", "strokeWidth": 5, "color": "white", "opacity": 0.55}, "encoding": {"detail": {"field": "s", "type": "nominal"}}},
   {"mark": {"type": "point", "filled": false, "size": 85, "strokeWidth": 1.2, "opacity": 0.35}, "encoding": {"color": {"field": "s", "type": "nominal", "scale": {"domain": ["*", "CO*", "O*"], "range": ["#8c564b", "#d62728", "#9467bd"]}, "legend": null}}},
   {"transform": [{"filter": "datum.t <= 0.3"}], "mark": {"type": "line", "strokeWidth": 10, "opacity": 0.7, "strokeCap": "round"}, "encoding": {"color": {"field": "s", "type": "nominal", "scale": {"domain": ["*", "CO*", "O*"], "range": ["#8c564b", "#d62728", "#9467bd"]}, "legend": null}}},
   {"mark": {"type": "line", "strokeWidth": 4, "strokeDash": [14, 6]}, "encoding": {"stroke": {"field": "s", "type": "nominal", "scale": {"domain": ["CO*", "O*", "*"], "range": ["#d62728", "#9467bd", "#8c564b"]}, "legend": {"title": null, "orient": "none", "legendX": 173, "legendY": 1260, "direction": "horizontal", "gridAlign": "none", "symbolType": "stroke", "symbolSize": 1600, "symbolStrokeWidth": 4, "symbolDash": [14, 6], "symbolOpacity": 1, "labelFontSize": 22, "labelOffset": 23, "columnPadding": 34, "padding": 7, "strokeColor": "#cccccc", "cornerRadius": 5, "fillColor": "white", "labelColor": "black"}}}}
  ]}
]},
{"width": 331, "height": 169, "layer": [
 {"data": {"values": [{}]}, "mark": {"type": "rect", "fill": "#e3c1c1"}, "encoding": {"x": {"datum": -0.831, "scale": {"domain": [-0.125, 2.625], "nice": false, "zero": false}, "axis": {"values": [0, 1, 2], "format": "d", "title": null, "orient": "bottom", "zindex": 1}}, "x2": {"datum": 2.6915}, "y": {"datum": 1.42, "scale": {"domain": [-0.105, 1.105], "nice": false, "zero": false}, "axis": {"values": [0, 0.5, 1], "format": ".1f", "title": null, "orient": "left", "zindex": 1}}, "y2": {"datum": -0.391}}},
 {"data": {"values": [{}]}, "mark": {"type": "rect", "fill": "white", "stroke": "black", "strokeWidth": 1}, "encoding": {"x": {"datum": -0.125, "scale": {"domain": [-0.125, 2.625], "nice": false, "zero": false}, "axis": {"values": [0, 1, 2], "format": "d", "title": null, "orient": "bottom", "zindex": 1}}, "x2": {"datum": 2.625}, "y": {"datum": 1.105, "scale": {"domain": [-0.105, 1.105], "nice": false, "zero": false}, "axis": {"values": [0, 0.5, 1], "format": ".1f", "title": null, "orient": "left", "zindex": 1}}, "y2": {"datum": -0.105}}},
 {"data": {"values": [{"name": "pulse2"}]}, "mark": {"type": "text", "fontSize": 23, "align": "center", "baseline": "alphabetic", "color": "black"}, "encoding": {"x": {"datum": 1.25, "scale": {"domain": [-0.125, 2.625], "nice": false, "zero": false}, "axis": {"values": [0, 1, 2], "format": "d", "title": null, "orient": "bottom", "zindex": 1}}, "y": {"datum": 1.169, "scale": {"domain": [-0.105, 1.105], "nice": false, "zero": false}, "axis": {"values": [0, 0.5, 1], "format": ".1f", "title": null, "orient": "left", "zindex": 1}}, "text": {"field": "name"}}},
 {"transform": [{"filter": "datum.p == 2"}],
  "encoding": {"x": {"field": "t", "type": "quantitative", "scale": {"domain": [-0.125, 2.625], "nice": false, "zero": false}, "axis": {"values": [0, 1, 2], "format": "d", "title": null, "orient": "bottom", "zindex": 1}}, "y": {"field": "y", "type": "quantitative", "scale": {"domain": [-0.105, 1.105], "nice": false, "zero": false}, "axis": {"values": [0, 0.5, 1], "format": ".1f", "title": null, "orient": "left", "zindex": 1}}},
  "layer": [
   {"mark": {"type": "line", "strokeWidth": 11, "opacity": 0.3, "strokeCap": "round"}, "encoding": {"color": {"field": "s", "type": "nominal", "scale": {"domain": ["*", "CO*", "O*"], "range": ["#8c564b", "#d62728", "#9467bd"]}, "legend": null}}},
   {"mark": {"type": "line", "strokeWidth": 5, "color": "white", "opacity": 0.55}, "encoding": {"detail": {"field": "s", "type": "nominal"}}},
   {"mark": {"type": "point", "filled": false, "size": 85, "strokeWidth": 1.2, "opacity": 0.35}, "encoding": {"color": {"field": "s", "type": "nominal", "scale": {"domain": ["*", "CO*", "O*"], "range": ["#8c564b", "#d62728", "#9467bd"]}, "legend": null}}},
   {"transform": [{"filter": "datum.t <= 0.3"}], "mark": {"type": "line", "strokeWidth": 10, "opacity": 0.7, "strokeCap": "round"}, "encoding": {"color": {"field": "s", "type": "nominal", "scale": {"domain": ["*", "CO*", "O*"], "range": ["#8c564b", "#d62728", "#9467bd"]}, "legend": null}}},
   {"mark": {"type": "line", "strokeWidth": 4, "strokeDash": [14, 6]}, "encoding": {"stroke": {"field": "s", "type": "nominal", "scale": {"domain": ["CO*", "O*", "*"], "range": ["#d62728", "#9467bd", "#8c564b"]}, "legend": {"title": null, "orient": "none", "legendX": 173, "legendY": 1260, "direction": "horizontal", "gridAlign": "none", "symbolType": "stroke", "symbolSize": 1600, "symbolStrokeWidth": 4, "symbolDash": [14, 6], "symbolOpacity": 1, "labelFontSize": 22, "labelOffset": 23, "columnPadding": 34, "padding": 7, "strokeColor": "#cccccc", "cornerRadius": 5, "fillColor": "white", "labelColor": "black"}}}}
  ]}
]},
{"width": 331, "height": 169, "layer": [
 {"data": {"values": [{}]}, "mark": {"type": "rect", "fill": "#c5d4f3"}, "encoding": {"x": {"datum": -0.648, "scale": {"domain": [-0.125, 2.625], "nice": false, "zero": false}, "axis": {"values": [0, 1, 2], "format": "d", "title": null, "orient": "bottom", "zindex": 1}}, "x2": {"datum": 2.7746}, "y": {"datum": 1.42, "scale": {"domain": [-0.105, 1.105], "nice": false, "zero": false}, "axis": {"values": [0, 0.5, 1], "format": ".1f", "title": null, "orient": "left", "zindex": 1}}, "y2": {"datum": -0.391}}},
 {"data": {"values": [{}]}, "mark": {"type": "rect", "fill": "white", "stroke": "black", "strokeWidth": 1}, "encoding": {"x": {"datum": -0.125, "scale": {"domain": [-0.125, 2.625], "nice": false, "zero": false}, "axis": {"values": [0, 1, 2], "format": "d", "title": null, "orient": "bottom", "zindex": 1}}, "x2": {"datum": 2.625}, "y": {"datum": 1.105, "scale": {"domain": [-0.105, 1.105], "nice": false, "zero": false}, "axis": {"values": [0, 0.5, 1], "format": ".1f", "title": null, "orient": "left", "zindex": 1}}, "y2": {"datum": -0.105}}},
 {"data": {"values": [{"name": "pulse 3"}]}, "mark": {"type": "text", "fontSize": 23, "align": "center", "baseline": "alphabetic", "color": "black"}, "encoding": {"x": {"datum": 1.25, "scale": {"domain": [-0.125, 2.625], "nice": false, "zero": false}, "axis": {"values": [0, 1, 2], "format": "d", "title": null, "orient": "bottom", "zindex": 1}}, "y": {"datum": 1.169, "scale": {"domain": [-0.105, 1.105], "nice": false, "zero": false}, "axis": {"values": [0, 0.5, 1], "format": ".1f", "title": null, "orient": "left", "zindex": 1}}, "text": {"field": "name"}}},
 {"transform": [{"filter": "datum.p == 3"}],
  "encoding": {"x": {"field": "t", "type": "quantitative", "scale": {"domain": [-0.125, 2.625], "nice": false, "zero": false}, "axis": {"values": [0, 1, 2], "format": "d", "title": null, "orient": "bottom", "zindex": 1}}, "y": {"field": "y", "type": "quantitative", "scale": {"domain": [-0.105, 1.105], "nice": false, "zero": false}, "axis": {"values": [0, 0.5, 1], "format": ".1f", "title": null, "orient": "left", "zindex": 1}}},
  "layer": [
   {"mark": {"type": "line", "strokeWidth": 11, "opacity": 0.3, "strokeCap": "round"}, "encoding": {"color": {"field": "s", "type": "nominal", "scale": {"domain": ["*", "CO*", "O*"], "range": ["#8c564b", "#d62728", "#9467bd"]}, "legend": null}}},
   {"mark": {"type": "line", "strokeWidth": 5, "color": "white", "opacity": 0.55}, "encoding": {"detail": {"field": "s", "type": "nominal"}}},
   {"mark": {"type": "point", "filled": false, "size": 85, "strokeWidth": 1.2, "opacity": 0.35}, "encoding": {"color": {"field": "s", "type": "nominal", "scale": {"domain": ["*", "CO*", "O*"], "range": ["#8c564b", "#d62728", "#9467bd"]}, "legend": null}}},
   {"transform": [{"filter": "datum.t <= 0.3"}], "mark": {"type": "line", "strokeWidth": 10, "opacity": 0.7, "strokeCap": "round"}, "encoding": {"color": {"field": "s", "type": "nominal", "scale": {"domain": ["*", "CO*", "O*"], "range": ["#8c564b", "#d62728", "#9467bd"]}, "legend": null}}},
   {"mark": {"type": "line", "strokeWidth": 4, "strokeDash": [14, 6]}, "encoding": {"stroke": {"field": "s", "type": "nominal", "scale": {"domain": ["CO*", "O*", "*"], "range": ["#d62728", "#9467bd", "#8c564b"]}, "legend": {"title": null, "orient": "none", "legendX": 173, "legendY": 1260, "direction": "horizontal", "gridAlign": "none", "symbolType": "stroke", "symbolSize": 1600, "symbolStrokeWidth": 4, "symbolDash": [14, 6], "symbolOpacity": 1, "labelFontSize": 22, "labelOffset": 23, "columnPadding": 34, "padding": 7, "strokeColor": "#cccccc", "cornerRadius": 5, "fillColor": "white", "labelColor": "black"}}}}
  ]}
]},
{"width": 331, "height": 169, "layer": [
 {"data": {"values": [{}]}, "mark": {"type": "rect", "fill": "#c5d4f3"}, "encoding": {"x": {"datum": -0.831, "scale": {"domain": [-0.125, 2.625], "nice": false, "zero": false}, "axis": {"values": [0, 1, 2], "format": "d", "title": null, "orient": "bottom", "zindex": 1}}, "x2": {"datum": 2.6915}, "y": {"datum": 1.42, "scale": {"domain": [-0.105, 1.105], "nice": false, "zero": false}, "axis": {"values": [0, 0.5, 1], "format": ".1f", "title": null, "orient": "left", "zindex": 1}}, "y2": {"datum": -0.391}}},
 {"data": {"values": [{}]}, "mark": {"type": "rect", "fill": "white", "stroke": "black", "strokeWidth": 1}, "encoding": {"x": {"datum": -0.125, "scale": {"domain": [-0.125, 2.625], "nice": false, "zero": false}, "axis": {"values": [0, 1, 2], "format": "d", "title": null, "orient": "bottom", "zindex": 1}}, "x2": {"datum": 2.625}, "y": {"datum": 1.105, "scale": {"domain": [-0.105, 1.105], "nice": false, "zero": false}, "axis": {"values": [0, 0.5, 1], "format": ".1f", "title": null, "orient": "left", "zindex": 1}}, "y2": {"datum": -0.105}}},
 {"data": {"values": [{"name": "pulse4"}]}, "mark": {"type": "text", "fontSize": 23, "align": "center", "baseline": "alphabetic", "color": "black"}, "encoding": {"x": {"datum": 1.25, "scale": {"domain": [-0.125, 2.625], "nice": false, "zero": false}, "axis": {"values": [0, 1, 2], "format": "d", "title": null, "orient": "bottom", "zindex": 1}}, "y": {"datum": 1.169, "scale": {"domain": [-0.105, 1.105], "nice": false, "zero": false}, "axis": {"values": [0, 0.5, 1], "format": ".1f", "title": null, "orient": "left", "zindex": 1}}, "text": {"field": "name"}}},
 {"transform": [{"filter": "datum.p == 4"}],
  "encoding": {"x": {"field": "t", "type": "quantitative", "scale": {"domain": [-0.125, 2.625], "nice": false, "zero": false}, "axis": {"values": [0, 1, 2], "format": "d", "title": null, "orient": "bottom", "zindex": 1}}, "y": {"field": "y", "type": "quantitative", "scale": {"domain": [-0.105, 1.105], "nice": false, "zero": false}, "axis": {"values": [0, 0.5, 1], "format": ".1f", "title": null, "orient": "left", "zindex": 1}}},
  "layer": [
   {"mark": {"type": "line", "strokeWidth": 11, "opacity": 0.3, "strokeCap": "round"}, "encoding": {"color": {"field": "s", "type": "nominal", "scale": {"domain": ["*", "CO*", "O*"], "range": ["#8c564b", "#d62728", "#9467bd"]}, "legend": null}}},
   {"mark": {"type": "line", "strokeWidth": 5, "color": "white", "opacity": 0.55}, "encoding": {"detail": {"field": "s", "type": "nominal"}}},
   {"mark": {"type": "point", "filled": false, "size": 85, "strokeWidth": 1.2, "opacity": 0.35}, "encoding": {"color": {"field": "s", "type": "nominal", "scale": {"domain": ["*", "CO*", "O*"], "range": ["#8c564b", "#d62728", "#9467bd"]}, "legend": null}}},
   {"transform": [{"filter": "datum.t <= 0.3"}], "mark": {"type": "line", "strokeWidth": 10, "opacity": 0.7, "strokeCap": "round"}, "encoding": {"color": {"field": "s", "type": "nominal", "scale": {"domain": ["*", "CO*", "O*"], "range": ["#8c564b", "#d62728", "#9467bd"]}, "legend": null}}},
   {"mark": {"type": "line", "strokeWidth": 4, "strokeDash": [14, 6]}, "encoding": {"stroke": {"field": "s", "type": "nominal", "scale": {"domain": ["CO*", "O*", "*"], "range": ["#d62728", "#9467bd", "#8c564b"]}, "legend": {"title": null, "orient": "none", "legendX": 173, "legendY": 1260, "direction": "horizontal", "gridAlign": "none", "symbolType": "stroke", "symbolSize": 1600, "symbolStrokeWidth": 4, "symbolDash": [14, 6], "symbolOpacity": 1, "labelFontSize": 22, "labelOffset": 23, "columnPadding": 34, "padding": 7, "strokeColor": "#cccccc", "cornerRadius": 5, "fillColor": "white", "labelColor": "black"}}}}
  ]}
]},
{"width": 331, "height": 169, "layer": [
 {"data": {"values": [{}]}, "mark": {"type": "rect", "fill": "#e3c1c1"}, "encoding": {"x": {"datum": -0.648, "scale": {"domain": [-0.125, 2.625], "nice": false, "zero": false}, "axis": {"values": [0, 1, 2], "format": "d", "title": null, "orient": "bottom", "zindex": 1}}, "x2": {"datum": 2.7746}, "y": {"datum": 1.42, "scale": {"domain": [-0.105, 1.105], "nice": false, "zero": false}, "axis": {"values": [0, 0.5, 1], "format": ".1f", "title": null, "orient": "left", "zindex": 1}}, "y2": {"datum": -0.391}}},
 {"data": {"values": [{}]}, "mark": {"type": "rect", "fill": "white", "stroke": "black", "strokeWidth": 1}, "encoding": {"x": {"datum": -0.125, "scale": {"domain": [-0.125, 2.625], "nice": false, "zero": false}, "axis": {"values": [0, 1, 2], "format": "d", "title": null, "orient": "bottom", "zindex": 1}}, "x2": {"datum": 2.625}, "y": {"datum": 1.105, "scale": {"domain": [-0.105, 1.105], "nice": false, "zero": false}, "axis": {"values": [0, 0.5, 1], "format": ".1f", "title": null, "orient": "left", "zindex": 1}}, "y2": {"datum": -0.105}}},
 {"data": {"values": [{"name": "pulse5"}]}, "mark": {"type": "text", "fontSize": 23, "align": "center", "baseline": "alphabetic", "color": "black"}, "encoding": {"x": {"datum": 1.25, "scale": {"domain": [-0.125, 2.625], "nice": false, "zero": false}, "axis": {"values": [0, 1, 2], "format": "d", "title": null, "orient": "bottom", "zindex": 1}}, "y": {"datum": 1.169, "scale": {"domain": [-0.105, 1.105], "nice": false, "zero": false}, "axis": {"values": [0, 0.5, 1], "format": ".1f", "title": null, "orient": "left", "zindex": 1}}, "text": {"field": "name"}}},
 {"transform": [{"filter": "datum.p == 5"}],
  "encoding": {"x": {"field": "t", "type": "quantitative", "scale": {"domain": [-0.125, 2.625], "nice": false, "zero": false}, "axis": {"values": [0, 1, 2], "format": "d", "title": null, "orient": "bottom", "zindex": 1}}, "y": {"field": "y", "type": "quantitative", "scale": {"domain": [-0.105, 1.105], "nice": false, "zero": false}, "axis": {"values": [0, 0.5, 1], "format": ".1f", "title": null, "orient": "left", "zindex": 1}}},
  "layer": [
   {"mark": {"type": "line", "strokeWidth": 11, "opacity": 0.3, "strokeCap": "round"}, "encoding": {"color": {"field": "s", "type": "nominal", "scale": {"domain": ["*", "CO*", "O*"], "range": ["#8c564b", "#d62728", "#9467bd"]}, "legend": null}}},
   {"mark": {"type": "line", "strokeWidth": 5, "color": "white", "opacity": 0.55}, "encoding": {"detail": {"field": "s", "type": "nominal"}}},
   {"mark": {"type": "point", "filled": false, "size": 85, "strokeWidth": 1.2, "opacity": 0.35}, "encoding": {"color": {"field": "s", "type": "nominal", "scale": {"domain": ["*", "CO*", "O*"], "range": ["#8c564b", "#d62728", "#9467bd"]}, "legend": null}}},
   {"transform": [{"filter": "datum.t <= 0.3"}], "mark": {"type": "line", "strokeWidth": 10, "opacity": 0.7, "strokeCap": "round"}, "encoding": {"color": {"field": "s", "type": "nominal", "scale": {"domain": ["*", "CO*", "O*"], "range": ["#8c564b", "#d62728", "#9467bd"]}, "legend": null}}},
   {"mark": {"type": "line", "strokeWidth": 4, "strokeDash": [14, 6]}, "encoding": {"stroke": {"field": "s", "type": "nominal", "scale": {"domain": ["CO*", "O*", "*"], "range": ["#d62728", "#9467bd", "#8c564b"]}, "legend": {"title": null, "orient": "none", "legendX": 173, "legendY": 1260, "direction": "horizontal", "gridAlign": "none", "symbolType": "stroke", "symbolSize": 1600, "symbolStrokeWidth": 4, "symbolDash": [14, 6], "symbolOpacity": 1, "labelFontSize": 22, "labelOffset": 23, "columnPadding": 34, "padding": 7, "strokeColor": "#cccccc", "cornerRadius": 5, "fillColor": "white", "labelColor": "black"}}}}
  ]}
]},
{"width": 331, "height": 169, "layer": [
 {"data": {"values": [{}]}, "mark": {"type": "rect", "fill": "#c5d4f3"}, "encoding": {"x": {"datum": -0.831, "scale": {"domain": [-0.125, 2.625], "nice": false, "zero": false}, "axis": {"values": [0, 1, 2], "format": "d", "title": null, "orient": "bottom", "zindex": 1}}, "x2": {"datum": 2.6915}, "y": {"datum": 1.42, "scale": {"domain": [-0.105, 1.105], "nice": false, "zero": false}, "axis": {"values": [0, 0.5, 1], "format": ".1f", "title": "scaled concentration (unitless)", "titleX": -73, "titleY": -179, "titleAngle": -90, "titleAlign": "center", "titleBaseline": "middle", "titleFontSize": 23, "orient": "left", "zindex": 1}}, "y2": {"datum": -0.391}}},
 {"data": {"values": [{}]}, "mark": {"type": "rect", "fill": "white", "stroke": "black", "strokeWidth": 1}, "encoding": {"x": {"datum": -0.125, "scale": {"domain": [-0.125, 2.625], "nice": false, "zero": false}, "axis": {"values": [0, 1, 2], "format": "d", "title": null, "orient": "bottom", "zindex": 1}}, "x2": {"datum": 2.625}, "y": {"datum": 1.105, "scale": {"domain": [-0.105, 1.105], "nice": false, "zero": false}, "axis": {"values": [0, 0.5, 1], "format": ".1f", "title": "scaled concentration (unitless)", "titleX": -73, "titleY": -179, "titleAngle": -90, "titleAlign": "center", "titleBaseline": "middle", "titleFontSize": 23, "orient": "left", "zindex": 1}}, "y2": {"datum": -0.105}}},
 {"data": {"values": [{"name": "pulse6"}]}, "mark": {"type": "text", "fontSize": 23, "align": "center", "baseline": "alphabetic", "color": "black"}, "encoding": {"x": {"datum": 1.25, "scale": {"domain": [-0.125, 2.625], "nice": false, "zero": false}, "axis": {"values": [0, 1, 2], "format": "d", "title": null, "orient": "bottom", "zindex": 1}}, "y": {"datum": 1.169, "scale": {"domain": [-0.105, 1.105], "nice": false, "zero": false}, "axis": {"values": [0, 0.5, 1], "format": ".1f", "title": "scaled concentration (unitless)", "titleX": -73, "titleY": -179, "titleAngle": -90, "titleAlign": "center", "titleBaseline": "middle", "titleFontSize": 23, "orient": "left", "zindex": 1}}, "text": {"field": "name"}}},
 {"transform": [{"filter": "datum.p == 6"}],
  "encoding": {"x": {"field": "t", "type": "quantitative", "scale": {"domain": [-0.125, 2.625], "nice": false, "zero": false}, "axis": {"values": [0, 1, 2], "format": "d", "title": null, "orient": "bottom", "zindex": 1}}, "y": {"field": "y", "type": "quantitative", "scale": {"domain": [-0.105, 1.105], "nice": false, "zero": false}, "axis": {"values": [0, 0.5, 1], "format": ".1f", "title": "scaled concentration (unitless)", "titleX": -73, "titleY": -179, "titleAngle": -90, "titleAlign": "center", "titleBaseline": "middle", "titleFontSize": 23, "orient": "left", "zindex": 1}}},
  "layer": [
   {"mark": {"type": "line", "strokeWidth": 11, "opacity": 0.3, "strokeCap": "round"}, "encoding": {"color": {"field": "s", "type": "nominal", "scale": {"domain": ["*", "CO*", "O*"], "range": ["#8c564b", "#d62728", "#9467bd"]}, "legend": null}}},
   {"mark": {"type": "line", "strokeWidth": 5, "color": "white", "opacity": 0.55}, "encoding": {"detail": {"field": "s", "type": "nominal"}}},
   {"mark": {"type": "point", "filled": false, "size": 85, "strokeWidth": 1.2, "opacity": 0.35}, "encoding": {"color": {"field": "s", "type": "nominal", "scale": {"domain": ["*", "CO*", "O*"], "range": ["#8c564b", "#d62728", "#9467bd"]}, "legend": null}}},
   {"transform": [{"filter": "datum.t <= 0.3"}], "mark": {"type": "line", "strokeWidth": 10, "opacity": 0.7, "strokeCap": "round"}, "encoding": {"color": {"field": "s", "type": "nominal", "scale": {"domain": ["*", "CO*", "O*"], "range": ["#8c564b", "#d62728", "#9467bd"]}, "legend": null}}},
   {"mark": {"type": "line", "strokeWidth": 4, "strokeDash": [14, 6]}, "encoding": {"stroke": {"field": "s", "type": "nominal", "scale": {"domain": ["CO*", "O*", "*"], "range": ["#d62728", "#9467bd", "#8c564b"]}, "legend": {"title": null, "orient": "none", "legendX": 173, "legendY": 1260, "direction": "horizontal", "gridAlign": "none", "symbolType": "stroke", "symbolSize": 1600, "symbolStrokeWidth": 4, "symbolDash": [14, 6], "symbolOpacity": 1, "labelFontSize": 22, "labelOffset": 23, "columnPadding": 34, "padding": 7, "strokeColor": "#cccccc", "cornerRadius": 5, "fillColor": "white", "labelColor": "black"}}}}
  ]}
]},
{"width": 331, "height": 169, "layer": [
 {"data": {"values": [{}]}, "mark": {"type": "rect", "fill": "#c5d4f3"}, "encoding": {"x": {"datum": -0.648, "scale": {"domain": [-0.125, 2.625], "nice": false, "zero": false}, "axis": {"values": [0, 1, 2], "format": "d", "title": null, "orient": "bottom", "zindex": 1}}, "x2": {"datum": 2.7746}, "y": {"datum": 1.42, "scale": {"domain": [-0.105, 1.105], "nice": false, "zero": false}, "axis": {"values": [0, 0.5, 1], "format": ".1f", "title": null, "orient": "left", "zindex": 1}}, "y2": {"datum": -0.391}}},
 {"data": {"values": [{}]}, "mark": {"type": "rect", "fill": "white", "stroke": "black", "strokeWidth": 1}, "encoding": {"x": {"datum": -0.125, "scale": {"domain": [-0.125, 2.625], "nice": false, "zero": false}, "axis": {"values": [0, 1, 2], "format": "d", "title": null, "orient": "bottom", "zindex": 1}}, "x2": {"datum": 2.625}, "y": {"datum": 1.105, "scale": {"domain": [-0.105, 1.105], "nice": false, "zero": false}, "axis": {"values": [0, 0.5, 1], "format": ".1f", "title": null, "orient": "left", "zindex": 1}}, "y2": {"datum": -0.105}}},
 {"data": {"values": [{"name": "pulse7"}]}, "mark": {"type": "text", "fontSize": 23, "align": "center", "baseline": "alphabetic", "color": "black"}, "encoding": {"x": {"datum": 1.25, "scale": {"domain": [-0.125, 2.625], "nice": false, "zero": false}, "axis": {"values": [0, 1, 2], "format": "d", "title": null, "orient": "bottom", "zindex": 1}}, "y": {"datum": 1.169, "scale": {"domain": [-0.105, 1.105], "nice": false, "zero": false}, "axis": {"values": [0, 0.5, 1], "format": ".1f", "title": null, "orient": "left", "zindex": 1}}, "text": {"field": "name"}}},
 {"transform": [{"filter": "datum.p == 7"}],
  "encoding": {"x": {"field": "t", "type": "quantitative", "scale": {"domain": [-0.125, 2.625], "nice": false, "zero": false}, "axis": {"values": [0, 1, 2], "format": "d", "title": null, "orient": "bottom", "zindex": 1}}, "y": {"field": "y", "type": "quantitative", "scale": {"domain": [-0.105, 1.105], "nice": false, "zero": false}, "axis": {"values": [0, 0.5, 1], "format": ".1f", "title": null, "orient": "left", "zindex": 1}}},
  "layer": [
   {"mark": {"type": "line", "strokeWidth": 11, "opacity": 0.3, "strokeCap": "round"}, "encoding": {"color": {"field": "s", "type": "nominal", "scale": {"domain": ["*", "CO*", "O*"], "range": ["#8c564b", "#d62728", "#9467bd"]}, "legend": null}}},
   {"mark": {"type": "line", "strokeWidth": 5, "color": "white", "opacity": 0.55}, "encoding": {"detail": {"field": "s", "type": "nominal"}}},
   {"mark": {"type": "point", "filled": false, "size": 85, "strokeWidth": 1.2, "opacity": 0.35}, "encoding": {"color": {"field": "s", "type": "nominal", "scale": {"domain": ["*", "CO*", "O*"], "range": ["#8c564b", "#d62728", "#9467bd"]}, "legend": null}}},
   {"transform": [{"filter": "datum.t <= 0.3"}], "mark": {"type": "line", "strokeWidth": 10, "opacity": 0.7, "strokeCap": "round"}, "encoding": {"color": {"field": "s", "type": "nominal", "scale": {"domain": ["*", "CO*", "O*"], "range": ["#8c564b", "#d62728", "#9467bd"]}, "legend": null}}},
   {"mark": {"type": "line", "strokeWidth": 4, "strokeDash": [14, 6]}, "encoding": {"stroke": {"field": "s", "type": "nominal", "scale": {"domain": ["CO*", "O*", "*"], "range": ["#d62728", "#9467bd", "#8c564b"]}, "legend": {"title": null, "orient": "none", "legendX": 173, "legendY": 1260, "direction": "horizontal", "gridAlign": "none", "symbolType": "stroke", "symbolSize": 1600, "symbolStrokeWidth": 4, "symbolDash": [14, 6], "symbolOpacity": 1, "labelFontSize": 22, "labelOffset": 23, "columnPadding": 34, "padding": 7, "strokeColor": "#cccccc", "cornerRadius": 5, "fillColor": "white", "labelColor": "black"}}}}
  ]}
]},
{"width": 331, "height": 169, "layer": [
 {"data": {"values": [{}]}, "mark": {"type": "rect", "fill": "#e3c1c1"}, "encoding": {"x": {"datum": -0.831, "scale": {"domain": [-0.125, 2.625], "nice": false, "zero": false}, "axis": {"values": [0, 1, 2], "format": "d", "title": "time (s)", "titleX": 337, "titleY": 47, "titleAlign": "center", "titleBaseline": "middle", "titleFontSize": 22, "orient": "bottom", "zindex": 1}}, "x2": {"datum": 2.6915}, "y": {"datum": 1.42, "scale": {"domain": [-0.105, 1.105], "nice": false, "zero": false}, "axis": {"values": [0, 0.5, 1], "format": ".1f", "title": null, "orient": "left", "zindex": 1}}, "y2": {"datum": -0.37}}},
 {"data": {"values": [{}]}, "mark": {"type": "rect", "fill": "white", "stroke": "black", "strokeWidth": 1}, "encoding": {"x": {"datum": -0.125, "scale": {"domain": [-0.125, 2.625], "nice": false, "zero": false}, "axis": {"values": [0, 1, 2], "format": "d", "title": "time (s)", "titleX": 337, "titleY": 47, "titleAlign": "center", "titleBaseline": "middle", "titleFontSize": 22, "orient": "bottom", "zindex": 1}}, "x2": {"datum": 2.625}, "y": {"datum": 1.105, "scale": {"domain": [-0.105, 1.105], "nice": false, "zero": false}, "axis": {"values": [0, 0.5, 1], "format": ".1f", "title": null, "orient": "left", "zindex": 1}}, "y2": {"datum": -0.105}}},
 {"data": {"values": [{"name": "pulse8"}]}, "mark": {"type": "text", "fontSize": 23, "align": "center", "baseline": "alphabetic", "color": "black"}, "encoding": {"x": {"datum": 1.25, "scale": {"domain": [-0.125, 2.625], "nice": false, "zero": false}, "axis": {"values": [0, 1, 2], "format": "d", "title": "time (s)", "titleX": 337, "titleY": 47, "titleAlign": "center", "titleBaseline": "middle", "titleFontSize": 22, "orient": "bottom", "zindex": 1}}, "y": {"datum": 1.169, "scale": {"domain": [-0.105, 1.105], "nice": false, "zero": false}, "axis": {"values": [0, 0.5, 1], "format": ".1f", "title": null, "orient": "left", "zindex": 1}}, "text": {"field": "name"}}},
 {"transform": [{"filter": "datum.p == 8"}],
  "encoding": {"x": {"field": "t", "type": "quantitative", "scale": {"domain": [-0.125, 2.625], "nice": false, "zero": false}, "axis": {"values": [0, 1, 2], "format": "d", "title": "time (s)", "titleX": 337, "titleY": 47, "titleAlign": "center", "titleBaseline": "middle", "titleFontSize": 22, "orient": "bottom", "zindex": 1}}, "y": {"field": "y", "type": "quantitative", "scale": {"domain": [-0.105, 1.105], "nice": false, "zero": false}, "axis": {"values": [0, 0.5, 1], "format": ".1f", "title": null, "orient": "left", "zindex": 1}}},
  "layer": [
   {"mark": {"type": "line", "strokeWidth": 11, "opacity": 0.3, "strokeCap": "round"}, "encoding": {"color": {"field": "s", "type": "nominal", "scale": {"domain": ["*", "CO*", "O*"], "range": ["#8c564b", "#d62728", "#9467bd"]}, "legend": null}}},
   {"mark": {"type": "line", "strokeWidth": 5, "color": "white", "opacity": 0.55}, "encoding": {"detail": {"field": "s", "type": "nominal"}}},
   {"mark": {"type": "point", "filled": false, "size": 85, "strokeWidth": 1.2, "opacity": 0.35}, "encoding": {"color": {"field": "s", "type": "nominal", "scale": {"domain": ["*", "CO*", "O*"], "range": ["#8c564b", "#d62728", "#9467bd"]}, "legend": null}}},
   {"transform": [{"filter": "datum.t <= 0.3"}], "mark": {"type": "line", "strokeWidth": 10, "opacity": 0.7, "strokeCap": "round"}, "encoding": {"color": {"field": "s", "type": "nominal", "scale": {"domain": ["*", "CO*", "O*"], "range": ["#8c564b", "#d62728", "#9467bd"]}, "legend": null}}},
   {"mark": {"type": "line", "strokeWidth": 4, "strokeDash": [14, 6]}, "encoding": {"stroke": {"field": "s", "type": "nominal", "scale": {"domain": ["CO*", "O*", "*"], "range": ["#d62728", "#9467bd", "#8c564b"]}, "legend": {"title": null, "orient": "none", "legendX": 173, "legendY": 1260, "direction": "horizontal", "gridAlign": "none", "symbolType": "stroke", "symbolSize": 1600, "symbolStrokeWidth": 4, "symbolDash": [14, 6], "symbolOpacity": 1, "labelFontSize": 22, "labelOffset": 23, "columnPadding": 34, "padding": 7, "strokeColor": "#cccccc", "cornerRadius": 5, "fillColor": "white", "labelColor": "black"}}}}
  ]}
]},
{"width": 331, "height": 169, "layer": [
 {"data": {"values": [{}]}, "mark": {"type": "rect", "fill": "#c5d4f3"}, "encoding": {"x": {"datum": -0.648, "scale": {"domain": [-0.125, 2.625], "nice": false, "zero": false}, "axis": {"values": [0, 1, 2], "format": "d", "title": null, "orient": "bottom", "zindex": 1}}, "x2": {"datum": 2.7746}, "y": {"datum": 1.42, "scale": {"domain": [-0.105, 1.105], "nice": false, "zero": false}, "axis": {"values": [0, 0.5, 1], "format": ".1f", "title": null, "orient": "left", "zindex": 1}}, "y2": {"datum": -0.37}}},
 {"data": {"values": [{}]}, "mark": {"type": "rect", "fill": "white", "stroke": "black", "strokeWidth": 1}, "encoding": {"x": {"datum": -0.125, "scale": {"domain": [-0.125, 2.625], "nice": false, "zero": false}, "axis": {"values": [0, 1, 2], "format": "d", "title": null, "orient": "bottom", "zindex": 1}}, "x2": {"datum": 2.625}, "y": {"datum": 1.105, "scale": {"domain": [-0.105, 1.105], "nice": false, "zero": false}, "axis": {"values": [0, 0.5, 1], "format": ".1f", "title": null, "orient": "left", "zindex": 1}}, "y2": {"datum": -0.105}}},
 {"data": {"values": [{"name": "pulse9"}]}, "mark": {"type": "text", "fontSize": 23, "align": "center", "baseline": "alphabetic", "color": "black"}, "encoding": {"x": {"datum": 1.25, "scale": {"domain": [-0.125, 2.625], "nice": false, "zero": false}, "axis": {"values": [0, 1, 2], "format": "d", "title": null, "orient": "bottom", "zindex": 1}}, "y": {"datum": 1.169, "scale": {"domain": [-0.105, 1.105], "nice": false, "zero": false}, "axis": {"values": [0, 0.5, 1], "format": ".1f", "title": null, "orient": "left", "zindex": 1}}, "text": {"field": "name"}}},
 {"transform": [{"filter": "datum.p == 9"}],
  "encoding": {"x": {"field": "t", "type": "quantitative", "scale": {"domain": [-0.125, 2.625], "nice": false, "zero": false}, "axis": {"values": [0, 1, 2], "format": "d", "title": null, "orient": "bottom", "zindex": 1}}, "y": {"field": "y", "type": "quantitative", "scale": {"domain": [-0.105, 1.105], "nice": false, "zero": false}, "axis": {"values": [0, 0.5, 1], "format": ".1f", "title": null, "orient": "left", "zindex": 1}}},
  "layer": [
   {"mark": {"type": "line", "strokeWidth": 11, "opacity": 0.3, "strokeCap": "round"}, "encoding": {"color": {"field": "s", "type": "nominal", "scale": {"domain": ["*", "CO*", "O*"], "range": ["#8c564b", "#d62728", "#9467bd"]}, "legend": null}}},
   {"mark": {"type": "line", "strokeWidth": 5, "color": "white", "opacity": 0.55}, "encoding": {"detail": {"field": "s", "type": "nominal"}}},
   {"mark": {"type": "point", "filled": false, "size": 85, "strokeWidth": 1.2, "opacity": 0.35}, "encoding": {"color": {"field": "s", "type": "nominal", "scale": {"domain": ["*", "CO*", "O*"], "range": ["#8c564b", "#d62728", "#9467bd"]}, "legend": null}}},
   {"transform": [{"filter": "datum.t <= 0.3"}], "mark": {"type": "line", "strokeWidth": 10, "opacity": 0.7, "strokeCap": "round"}, "encoding": {"color": {"field": "s", "type": "nominal", "scale": {"domain": ["*", "CO*", "O*"], "range": ["#8c564b", "#d62728", "#9467bd"]}, "legend": null}}},
   {"mark": {"type": "line", "strokeWidth": 4, "strokeDash": [14, 6]}, "encoding": {"stroke": {"field": "s", "type": "nominal", "scale": {"domain": ["CO*", "O*", "*"], "range": ["#d62728", "#9467bd", "#8c564b"]}, "legend": {"title": null, "orient": "none", "legendX": 173, "legendY": 1260, "direction": "horizontal", "gridAlign": "none", "symbolType": "stroke", "symbolSize": 1600, "symbolStrokeWidth": 4, "symbolDash": [14, 6], "symbolOpacity": 1, "labelFontSize": 22, "labelOffset": 23, "columnPadding": 34, "padding": 7, "strokeColor": "#cccccc", "cornerRadius": 5, "fillColor": "white", "labelColor": "black"}}}}
  ]}
]}
]
}
